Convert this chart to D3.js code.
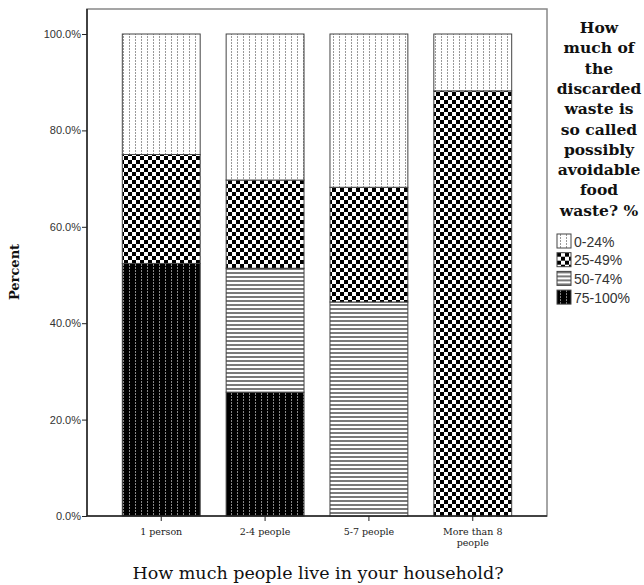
<!DOCTYPE html>
<html>
<head>
<meta charset="utf-8">
<script src="https://cdn.jsdelivr.net/npm/d3@7"></script>
<style>
  body { margin: 0; background: #fff; }
  svg { display: block; }
</style>
</head>
<body>
<div id="chart"></div>
<script>
// household size categories
const categories = ["1 person", "2-4 people", "5-7 people", "More than 8 people"];
const catLines = [["1 person"], ["2-4 people"], ["5-7 people"], ["More than 8", "people"]];

// share (%) of each answer group
const p75_100 = [52.4, 25.7, 0, 0];
const p50_74 = [0, 25.7, 44.4, 0];
const p25_49 = [22.6, 18.3, 23.8, 88.2];
const p0_24 = [25.0, 30.3, 31.8, 11.8];

const seriesNames = ["75-100%", "50-74%", "25-49%", "0-24%"]; // stacking order, bottom first
const legendOrder = ["0-24%", "25-49%", "50-74%", "75-100%"];
const yTicks = [0, 20, 40, 60, 80, 100];

const legendTitle = ["How", "much of", "the", "discarded", "waste is", "so called", "possibly", "avoidable", "food", "waste? %"];

const width = 644, height = 585;
const plot = { left: 87, right: 547, top: 9, bottom: 516 };

const svg = d3.select("#chart")
  .append("svg")
  .attr("width", width)
  .attr("height", height);

// fill patterns like the SPSS ones
const defs = svg.append("defs");

const dots = defs.append("pattern").attr("id", "p0").attr("patternUnits", "userSpaceOnUse")
  .attr("width", 6).attr("height", 3);
dots.append("rect").attr("width", 6).attr("height", 3).attr("fill", "#fff");
dots.append("rect").attr("x", 3).attr("width", 1).attr("height", 2).attr("fill", "#999");

const checks = defs.append("pattern").attr("id", "p1").attr("patternUnits", "userSpaceOnUse")
  .attr("width", 8).attr("height", 8);
checks.append("rect").attr("width", 8).attr("height", 8).attr("fill", "#fff");
checks.append("rect").attr("width", 4).attr("height", 4).attr("fill", "#000");
checks.append("rect").attr("x", 4).attr("y", 4).attr("width", 4).attr("height", 4).attr("fill", "#000");

const stripes = defs.append("pattern").attr("id", "p2").attr("patternUnits", "userSpaceOnUse")
  .attr("width", 4).attr("height", 4);
stripes.append("rect").attr("width", 4).attr("height", 4).attr("fill", "#fff");
stripes.append("rect").attr("width", 4).attr("height", 2).attr("fill", "#7a7a7a");

const darkDots = defs.append("pattern").attr("id", "p3").attr("patternUnits", "userSpaceOnUse")
  .attr("width", 6).attr("height", 3);
darkDots.append("rect").attr("width", 6).attr("height", 3).attr("fill", "#000");
darkDots.append("rect").attr("x", 3).attr("width", 1).attr("height", 2).attr("fill", "#888");

const fillOf = {
  "0-24%": "url(#p0)",
  "25-49%": "url(#p1)",
  "50-74%": "url(#p2)",
  "75-100%": "url(#p3)"
};

const table = categories.map((c, i) => ({
  cat: c,
  "75-100%": p75_100[i],
  "50-74%": p50_74[i],
  "25-49%": p25_49[i],
  "0-24%": p0_24[i]
}));

const stacked = d3.stack().keys(seriesNames)(table);

const x = d3.scaleBand()
  .domain(categories)
  .range([plot.left, plot.right])
  .paddingInner(0.25)
  .paddingOuter(0.34);

const y = d3.scaleLinear()
  .domain([0, 100])
  .range([plot.bottom, 34]);

// plot frame (top and right edges)
svg.append("rect")
  .attr("x", plot.left).attr("y", plot.top)
  .attr("width", plot.right - plot.left).attr("height", plot.bottom - plot.top)
  .attr("fill", "none").attr("stroke", "#888").attr("stroke-width", 1.5);

// bars
svg.append("g")
  .selectAll("g")
  .data(stacked)
  .join("g")
  .attr("fill", d => fillOf[d.key])
  .selectAll("rect")
  .data(d => d.filter(s => s[1] - s[0] > 0))
  .join("rect")
  .attr("x", d => x(d.data.cat))
  .attr("width", x.bandwidth())
  .attr("y", d => y(d[1]))
  .attr("height", d => y(d[0]) - y(d[1]))
  .attr("stroke", "#444")
  .attr("stroke-width", 1);

// y axis
const yAxis = svg.append("g")
  .attr("transform", `translate(${plot.left},0)`)
  .call(d3.axisLeft(y).tickValues(yTicks).tickSize(5).tickFormat(d => d3.format(".1f")(d) + "%"));
yAxis.select(".domain").attr("stroke", "#222").attr("stroke-width", 1.5).attr("d", `M0,${plot.top}V${plot.bottom}`);
yAxis.selectAll(".tick line").attr("stroke", "#222");
yAxis.selectAll(".tick text")
  .attr("x", -6)
  .attr("fill", "#333")
  .style("font-family", "'Liberation Sans', Arial, sans-serif")
  .style("font-size", "11px");

// x axis
const xAxis = svg.append("g")
  .attr("transform", `translate(0,${plot.bottom})`)
  .call(d3.axisBottom(x).tickSize(5).tickFormat(""));
xAxis.select(".domain").attr("stroke", "#222").attr("stroke-width", 1.5).attr("d", `M${plot.left},0H${plot.right}`);
xAxis.selectAll(".tick line").attr("stroke", "#222");

svg.append("g")
  .selectAll("text")
  .data(categories)
  .join("text")
  .attr("x", d => x(d) + x.bandwidth() / 2)
  .attr("y", 535)
  .attr("text-anchor", "middle")
  .attr("fill", "#222")
  .style("font-family", "'DejaVu Serif', serif")
  .style("font-size", "9.5px")
  .each(function (d, i) {
    d3.select(this).selectAll("tspan")
      .data(catLines[i])
      .join("tspan")
      .attr("x", x(d) + x.bandwidth() / 2)
      .attr("dy", (t, j) => j === 0 ? 0 : 11)
      .text(t => t);
  });

// axis titles
svg.append("text")
  .attr("x", 318).attr("y", 579)
  .attr("text-anchor", "middle")
  .attr("fill", "#111")
  .style("font-family", "'DejaVu Serif', serif")
  .style("font-size", "17.5px")
  .text("How much people live in your household?");

svg.append("text")
  .attr("transform", "translate(19,272) rotate(-90)")
  .attr("text-anchor", "middle")
  .attr("fill", "#111")
  .style("font-family", "'DejaVu Serif', serif")
  .style("font-weight", "bold")
  .style("font-size", "13px")
  .text("Percent");

// legend
svg.append("text")
  .attr("x", 599).attr("y", 33)
  .attr("text-anchor", "middle")
  .attr("fill", "#111")
  .style("font-family", "'DejaVu Serif', serif")
  .style("font-weight", "bold")
  .style("font-size", "15.5px")
  .selectAll("tspan")
  .data(legendTitle)
  .join("tspan")
  .attr("x", 599)
  .attr("dy", (d, i) => i === 0 ? 0 : 20.3)
  .text(d => d);

const legend = svg.append("g")
  .selectAll("g")
  .data(legendOrder)
  .join("g")
  .attr("transform", (d, i) => `translate(557,${234 + i * 18.7})`);

legend.append("rect")
  .attr("width", 14).attr("height", 14)
  .attr("fill", d => fillOf[d])
  .attr("stroke", "#444");

legend.append("text")
  .attr("x", 17).attr("y", 12.5)
  .attr("fill", "#333")
  .style("font-family", "'Liberation Sans', Arial, sans-serif")
  .style("font-size", "14px")
  .text(d => d);
</script>
</body>
</html>
